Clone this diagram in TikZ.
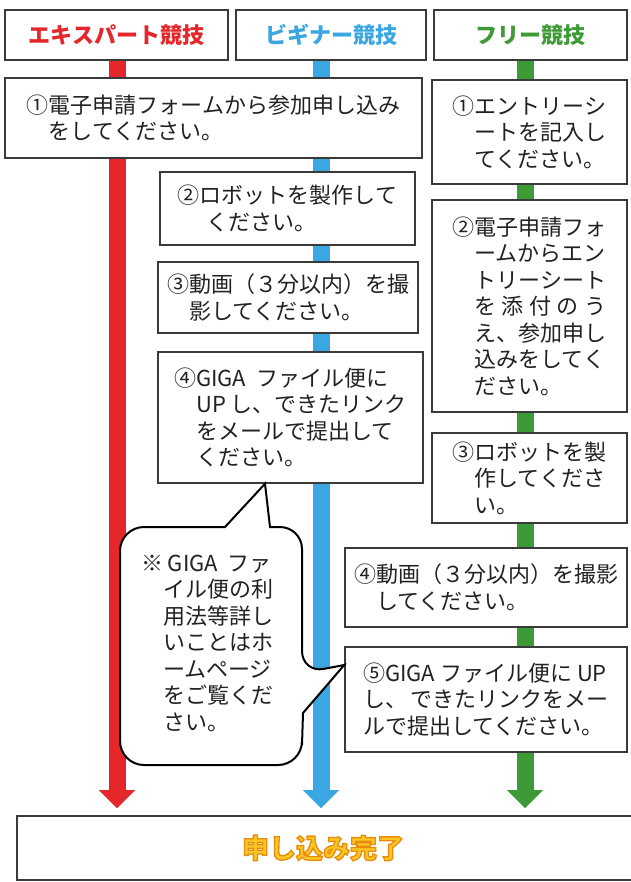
\documentclass[tikz,border=0pt]{standalone}
\usepackage{fontspec}
\setmainfont{Noto Sans CJK JP}
\usetikzlibrary{arrows.meta,backgrounds}
\definecolor{cred}{HTML}{E5262A}
\definecolor{cblue}{HTML}{3AA6E2}
\definecolor{cgreen}{HTML}{3E9A36}
\definecolor{boxgray}{HTML}{3A3A3A}
\definecolor{txt}{HTML}{222222}
\definecolor{doneyellow}{HTML}{F9C623}
\newcommand\outlinedtext[1]{\special{pdf:code q 2 Tr 1.3 w 0.91 0.55 0.06 RG}#1\special{pdf:code Q}}
\begin{document}
\begin{tikzpicture}[x=1pt,y=-1pt,
  font=\fontsize{22}{26.5}\selectfont,
  stepbox/.style={draw=boxgray, line width=1.5pt, fill=white, align=left, inner sep=0pt, text=txt},
  hdrbox/.style={draw=boxgray, line width=1.5pt, fill=white, inner sep=0pt,
    font=\fontsize{22}{26}\selectfont\bfseries},
  flow/.style={line width=17pt, -{Triangle[width=36pt,length=18pt,line width=0.01pt]}},
  callout/.style={draw=black, line width=2pt, fill=white}]
\useasboundingbox (0,0) rectangle (630,882);

% headers
\node[hdrbox, text=cred, minimum width=223, minimum height=50] (hr) at (116.5,35) {エキスパート競技};
\node[hdrbox, text=cblue, minimum width=190, minimum height=50] (hb) at (331,35) {ビギナー競技};
\node[hdrbox, text=cgreen, minimum width=193, minimum height=50] (hg) at (530.5,35) {フリー競技};

% arrow end points
\coordinate (er) at (117,808);
\coordinate (eb) at (321,808);
\coordinate (eg) at (525,808);

% flow lines (behind all boxes)
\begin{scope}[on background layer]
\draw[flow, cred] (hr.south -| er) -- (er);
\draw[flow, cblue] (hb.south -| eb) -- (eb);
\draw[flow, cgreen] (hg.south -| eg) -- (eg);
\end{scope}

% expert / beginner steps
\node[stepbox, minimum width=417, minimum height=80] (r1) at (213.5,118)
  {①電子申請フォームから参加申し込み\\\hspace*{1em}をしてください。};
\node[stepbox, minimum width=255, minimum height=73] (b2) at (287.5,208.5)
  {②ロボットを製作して\\\hspace*{1.3em}ください。};
\node[stepbox, minimum width=260, minimum height=71] (b3) at (288,297.5)
  {③動画（３分以内）を撮\\\hspace*{1em}影してください。};
\node[stepbox, minimum width=265, minimum height=131] (b4) at (290.5,417.5)
  {④GIGA\ \ ファイル便に\\\hspace*{1em}UP し、できたリンク\\\hspace*{1em}をメールで提出して\\\hspace*{1em}ください。};

% free steps
\node[stepbox, minimum width=195, minimum height=104] (g1) at (529.5,132)
  {①エントリーシ\\\hspace*{1em}ートを記入し\\\hspace*{1em}てください。};
\node[stepbox, minimum width=195, minimum height=212] (g2) at (529.5,306)
  {②電子申請フォ\\\hspace*{1em}ームからエン\\\hspace*{1em}トリーシート\\\hspace*{1em}\makebox[6em][s]{を\hfil 添\hfil 付\hfil の\hfil う}\\\hspace*{1em}え、参加申し\\\hspace*{1em}込みをしてく\\\hspace*{1em}ださい。};
\node[stepbox, minimum width=195, minimum height=90] (g3) at (529.5,478)
  {③ロボットを製\\\hspace*{1em}作してくださ\\\hspace*{1em}い。};
\node[stepbox, minimum width=282, minimum height=79] (g4) at (486,587.5)
  {④動画（３分以内）を撮影\\\hspace*{1em}してください。};
\node[stepbox, minimum width=282, minimum height=105] (g5) at (486,699.5)
  {⑤GIGA ファイル便に UP\\し、\,できたリンクをメー\\ルで提出してください。};

% callout
\draw[callout] (225,527) -- (b4.south -| 265,0) -- (270,527) -- (280,527)
  [rounded corners=22] -- (302,527) -- (302,673)
  [sharp corners] -- (g5.west |- 0,665) -- (303,713) -- (302,745)
  [rounded corners=24] -- (302,765) -- (120,765) -- (120,527) -- (200,527)
  [sharp corners] -- cycle;
\node[align=left, inner sep=0pt, text=txt] (note) at (207,643)
  {※ GIGA\ \ ファ\\\hspace*{1em}イル便の利\\\hspace*{1em}用法等詳し\\\hspace*{1em}いことはホ\\\hspace*{1em}ームページ\\\hspace*{1em}をご覧くだ\\\hspace*{1em}さい。};

% completion box
\node[draw=boxgray, line width=1.8pt, fill=white, minimum width=620, minimum height=64, inner sep=0pt] (done) at (327,848) {};
\node[inner sep=0pt, text=doneyellow, font=\fontsize{27}{30}\selectfont\bfseries] (donetext) at (323,848)
  {\outlinedtext{申し込み完了}};
\end{tikzpicture}
\end{document}
